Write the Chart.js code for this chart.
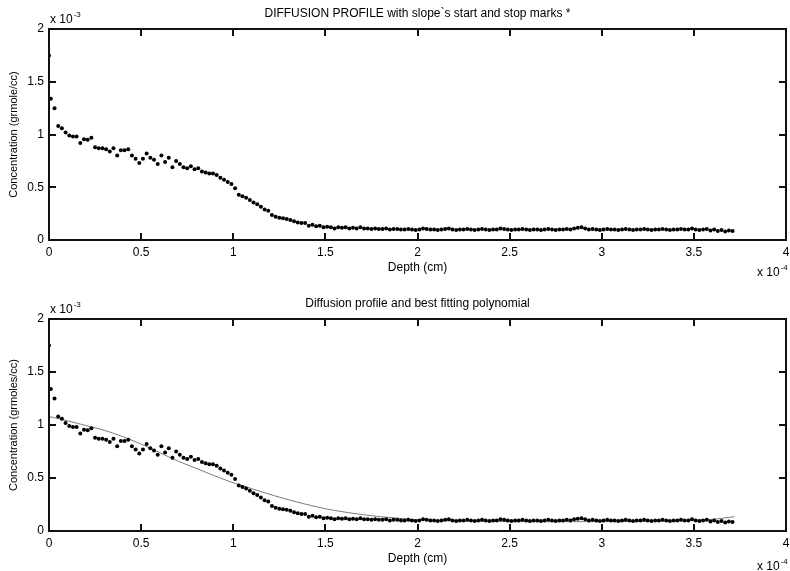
<!DOCTYPE html>
<html>
<head>
<meta charset="utf-8">
<script src="https://cdn.jsdelivr.net/npm/chart.js@4/dist/chart.umd.min.js"></script>
<style>
  html, body { margin: 0; padding: 0; background: #fff; }
  #wrap { position: relative; width: 790px; height: 571px; overflow: hidden; }
  .panel { position: absolute; left: 0; width: 790px; }
</style>
</head>
<body>
<div id="wrap">
  <div class="panel" style="top:0;height:285px"><canvas id="topChart" width="790" height="285"></canvas></div>
  <div class="panel" style="top:290px;height:281px"><canvas id="bottomChart" width="790" height="281"></canvas></div>
</div>
<script>
// --- Data (depth in units of 1e-4 cm, concentration in units of 1e-3) ---
const depth = [
  0, 0.01, 0.03,
  0.05, 0.07, 0.09, 0.11, 0.13, 0.15, 0.17, 0.19, 0.21, 0.23,
  0.25, 0.27, 0.29, 0.31, 0.33, 0.35, 0.37, 0.39, 0.41, 0.43,
  0.45, 0.47, 0.49, 0.51, 0.53, 0.55, 0.57, 0.59, 0.61, 0.63,
  0.65, 0.67, 0.69, 0.71, 0.73, 0.75, 0.77, 0.79, 0.81, 0.83,
  0.85, 0.87, 0.89, 0.91, 0.93, 0.95, 0.97, 0.99, 1.01, 1.03,
  1.05, 1.07, 1.09, 1.11, 1.13, 1.15, 1.17, 1.19, 1.21, 1.23,
  1.25, 1.27, 1.29, 1.31, 1.33, 1.35, 1.37, 1.39, 1.41, 1.43,
  1.45, 1.47, 1.49, 1.51, 1.53, 1.55, 1.57, 1.59, 1.61, 1.63,
  1.65, 1.67, 1.69, 1.71, 1.73, 1.75, 1.77, 1.79, 1.81, 1.83,
  1.85, 1.87, 1.89, 1.91, 1.93, 1.95, 1.97, 1.99, 2.01, 2.03,
  2.05, 2.07, 2.09, 2.11, 2.13, 2.15, 2.17, 2.19, 2.21, 2.23,
  2.25, 2.27, 2.29, 2.31, 2.33, 2.35, 2.37, 2.39, 2.41, 2.43,
  2.45, 2.47, 2.49, 2.51, 2.53, 2.55, 2.57, 2.59, 2.61, 2.63,
  2.65, 2.67, 2.69, 2.71, 2.73, 2.75, 2.77, 2.79, 2.81, 2.83,
  2.85, 2.87, 2.89, 2.91, 2.93, 2.95, 2.97, 2.99, 3.01, 3.03,
  3.05, 3.07, 3.09, 3.11, 3.13, 3.15, 3.17, 3.19, 3.21, 3.23,
  3.25, 3.27, 3.29, 3.31, 3.33, 3.35, 3.37, 3.39, 3.41, 3.43,
  3.45, 3.47, 3.49, 3.51, 3.53, 3.55, 3.57, 3.59, 3.61, 3.63,
  3.65, 3.67, 3.69, 3.71
];
const concentration = [
  1.75, 1.34, 1.25,
  1.08, 1.06, 1.02, 0.99, 0.98, 0.98, 0.92, 0.955, 0.95, 0.97,
  0.88, 0.87, 0.87, 0.86, 0.84, 0.87, 0.80, 0.85, 0.85, 0.86,
  0.80, 0.77, 0.73, 0.77, 0.82, 0.78, 0.76, 0.72, 0.80, 0.74,
  0.78, 0.69, 0.75, 0.72, 0.69, 0.68, 0.70, 0.67, 0.68, 0.65,
  0.64, 0.63, 0.63, 0.615, 0.59, 0.57, 0.55, 0.53, 0.49, 0.43,
  0.415, 0.40, 0.38, 0.355, 0.34, 0.315, 0.29, 0.278, 0.237, 0.22,
  0.21, 0.205, 0.20, 0.19, 0.178, 0.167, 0.16, 0.16, 0.135, 0.145,
  0.13, 0.135, 0.12, 0.125, 0.12, 0.11, 0.12, 0.115, 0.12, 0.11,
  0.115, 0.11, 0.12, 0.11, 0.11, 0.105, 0.11, 0.105, 0.105, 0.11,
  0.10, 0.105, 0.105, 0.10, 0.10, 0.105, 0.10, 0.095, 0.10, 0.11,
  0.105, 0.10, 0.10, 0.095, 0.10, 0.105, 0.11, 0.10, 0.095, 0.10,
  0.10, 0.105, 0.10, 0.095, 0.10, 0.105, 0.10, 0.095, 0.10, 0.10,
  0.11, 0.105, 0.10, 0.095, 0.10, 0.10, 0.105, 0.10, 0.095, 0.10,
  0.10, 0.095, 0.10, 0.105, 0.10, 0.095, 0.10, 0.10, 0.105, 0.10,
  0.11, 0.115, 0.12, 0.11, 0.10, 0.105, 0.10, 0.095, 0.10, 0.105,
  0.10, 0.10, 0.095, 0.10, 0.105, 0.10, 0.095, 0.10, 0.10, 0.105,
  0.10, 0.095, 0.10, 0.10, 0.105, 0.10, 0.095, 0.10, 0.10, 0.105,
  0.10, 0.10, 0.11, 0.10, 0.095, 0.10, 0.105, 0.09, 0.10, 0.085,
  0.095, 0.08, 0.09, 0.085
];
// best fitting polynomial
const fitDepth = [0, 0.1, 0.2, 0.3, 0.4, 0.5, 0.6, 0.7, 0.8, 0.9, 1.0, 1.1, 1.2, 1.3, 1.4, 1.5,
  1.6, 1.7, 1.8, 1.9, 2.0, 2.2, 2.4, 2.6, 2.8, 3.0, 3.2, 3.4, 3.6, 3.72];
const fitConc = [1.08, 1.04, 0.995, 0.95, 0.89, 0.82, 0.74, 0.66, 0.59, 0.52, 0.455, 0.40, 0.345, 0.295, 0.25, 0.21,
  0.18, 0.155, 0.135, 0.12, 0.105, 0.095, 0.09, 0.088, 0.088, 0.088, 0.09, 0.095, 0.11, 0.135];

const xTicks = { min: 0, max: 4, step: 0.5 };
const yTicks = { min: 0, max: 2, step: 0.5 };

const FONT = '"Liberation Sans", Arial, Helvetica, sans-serif';
const NARROW = '"Liberation Sans Narrow", "Liberation Sans", Arial, sans-serif';

const points = depth.map((d, i) => ({ x: d, y: concentration[i] }));
const fitPoints = fitDepth.map((d, i) => ({ x: d, y: fitConc[i] }));

// MATLAB prints 1 and 2, not 1.0 and 2.0
const plainTick = v => String(+(+v).toFixed(2));

// --- MATLAB-like box, inward ticks, title and exponent labels ---
const matlabAxes = {
  id: 'matlabAxes',
  afterDraw(chart, args, opts) {
    const { ctx, chartArea: a } = chart;
    const xs = chart.scales.x, ys = chart.scales.y;
    ctx.save();
    ctx.fillStyle = '#111';
    const L = Math.round(a.left), R = Math.round(a.right);
    const T = Math.round(a.top), B = Math.round(a.bottom);
    const lw = 2;
    // box (2px, like the scanned original)
    ctx.fillRect(L - 1, T - 1, R - L + 2, lw);
    ctx.fillRect(L - 1, B - 1, R - L + 2, lw);
    ctx.fillRect(L - 1, T - 1, lw, B - T + 2);
    ctx.fillRect(R - 1, T - 1, lw, B - T + 2);
    // inward tick marks on all four sides
    xs.ticks.forEach(t => {
      const px = Math.round(xs.getPixelForValue(t.value));
      ctx.fillRect(px - 1, B - 7, lw, 7);
      ctx.fillRect(px - 1, T, lw, 7);
    });
    ys.ticks.forEach(t => {
      const py = Math.round(ys.getPixelForValue(t.value));
      ctx.fillRect(L, py - 1, 7, lw);
      ctx.fillRect(R - 7, py - 1, 7, lw);
    });

    ctx.fillStyle = '#000';
    ctx.textBaseline = 'alphabetic';
    // title
    ctx.font = '12px ' + NARROW;
    ctx.textAlign = 'center';
    ctx.fillText(opts.title, (a.left + a.right) / 2, a.top - 12);

    // y exponent, top-left
    ctx.textAlign = 'left';
    ctx.font = '12px ' + FONT;
    ctx.fillText('x 10', a.left + 1, a.top - 6);
    let w = ctx.measureText('x 10').width;
    ctx.font = '8px ' + FONT;
    ctx.fillText(opts.yExp, a.left + 2 + w, a.top - 12);

    // x exponent, bottom-right
    ctx.font = '12px ' + FONT;
    ctx.fillText('x 10', a.right - 29, a.bottom + opts.xExpDy);
    w = ctx.measureText('x 10').width;
    ctx.font = '8px ' + FONT;
    ctx.fillText(opts.xExp, a.right - 28 + w, a.bottom + opts.xExpDy - 6);
    ctx.restore();
  }
};

function makeOptions(cfg) {
  return {
    responsive: false,
    animation: false,
    layout: { padding: { top: 29, right: 4, left: 0, bottom: 0 } },
    plugins: {
      legend: { display: false },
      tooltip: { enabled: false },
      matlabAxes: cfg
    },
    scales: {
      x: {
        type: 'linear',
        min: xTicks.min, max: xTicks.max,
        ticks: { stepSize: xTicks.step, callback: plainTick, color: '#000', font: { family: FONT, size: 12 }, padding: 5, maxRotation: 0 },
        grid: { display: false, drawTicks: false },
        border: { display: false },
        title: { display: true, text: 'Depth (cm)', color: '#000', font: { family: FONT, size: 12 }, padding: { top: 0, bottom: cfg.xTitlePad } },
        afterFit: s => { s.height = cfg.xAxisH; s.paddingLeft = 0; s.paddingRight = 0; }
      },
      y: {
        type: 'linear',
        min: yTicks.min, max: yTicks.max,
        ticks: { stepSize: yTicks.step, callback: plainTick, color: '#000', font: { family: FONT, size: 12 }, padding: 5 },
        grid: { display: false, drawTicks: false },
        border: { display: false },
        title: { display: true, text: cfg.yTitle, color: '#000', font: { family: FONT, size: 11 }, padding: { top: 7, bottom: 0 } },
        afterFit: s => { s.width = 49; s.paddingTop = 0; s.paddingBottom = 0; }
      }
    }
  };
}

const dotStyle = {
  backgroundColor: '#000',
  borderWidth: 0,
  pointRadius: 2,
  pointHoverRadius: 2
};

new Chart(document.getElementById('topChart'), {
  type: 'scatter',
  data: { datasets: [Object.assign({ label: 'profile', data: points }, dotStyle)] },
  options: makeOptions({
    title: 'DIFFUSION PROFILE with slope`s start and stop marks *',
    yTitle: 'Concentration (grmole/cc)',
    xAxisH: 45, xTitlePad: 10, xExpDy: 36,
    yExp: '-3', xExp: '-4'
  }),
  plugins: [matlabAxes]
});

new Chart(document.getElementById('bottomChart'), {
  type: 'scatter',
  data: {
    datasets: [
      Object.assign({ label: 'profile', data: points }, dotStyle),
      { label: 'polynomial', data: fitPoints, showLine: true, pointRadius: 0, borderColor: '#7a7a7a', borderWidth: 1, tension: 0.3, fill: false }
    ]
  },
  options: makeOptions({
    title: 'Diffusion profile and best fitting polynomial',
    yTitle: 'Concentration (grmoles/cc)',
    xAxisH: 40, xTitlePad: 5, xExpDy: 39,
    yExp: '-3', xExp: '-4'
  }),
  plugins: [matlabAxes]
});
</script>
</body>
</html>
